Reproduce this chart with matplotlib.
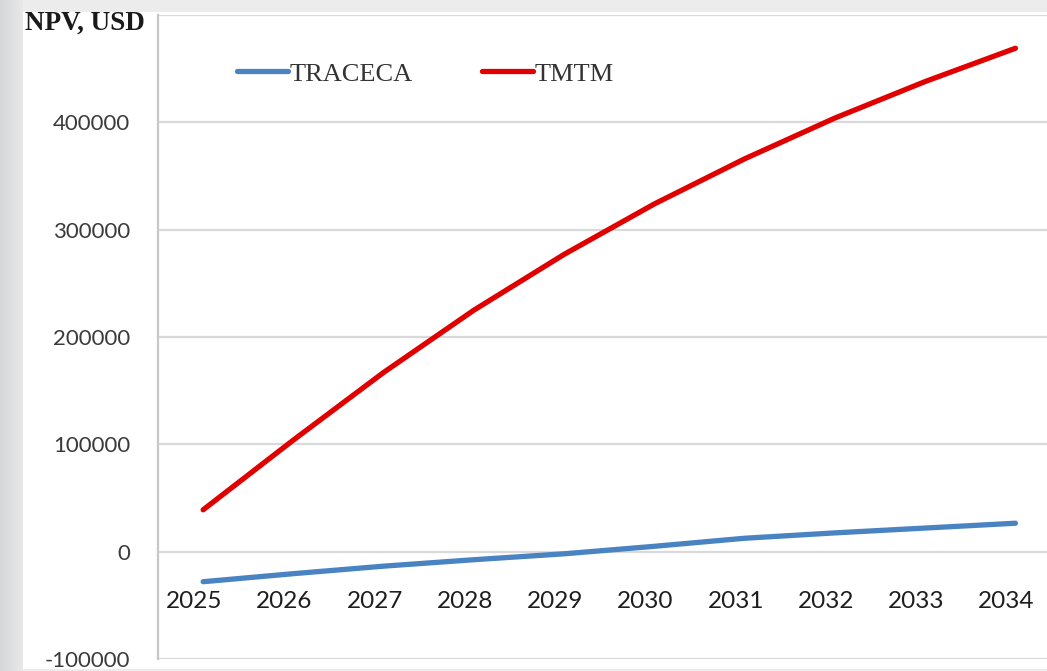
import numpy as np
import matplotlib
matplotlib.use("Agg")
import matplotlib.pyplot as plt
import matplotlib.transforms as mtransforms
from matplotlib.patches import Rectangle

years = [2025, 2026, 2027, 2028, 2029, 2030, 2031, 2032, 2033, 2034]
traceca = [-28000, -20500, -13500, -7500, -2000, 5000, 12500, 17500, 22000, 26500]
tmtm = [39000, 104000, 167000, 225000, 277000, 324000, 366000, 404000, 438000, 469000]
yticks = [-100000, 0, 100000, 200000, 300000, 400000]
series_names = ["TRACECA", "TMTM"]

W, H = 1047, 671
fig = plt.figure(figsize=(W / 100, H / 100), dpi=100)
fig.patch.set_facecolor("#ececec")

# left gradient strip
gax = fig.add_axes([0, 0, 23 / W, 1], zorder=0)
grad = np.linspace(0, 1, 50).reshape(1, -1)
gax.imshow(grad, aspect="auto", cmap=matplotlib.colors.LinearSegmentedColormap.from_list(
    "g", ["#d6d7d9", "#e8e8e9"]), extent=[0, 1, 0, 1])
gax.axis("off")

# white panel
fig.patches.append(Rectangle((23 / W, 2 / H), 1 - 23 / W, (669 - 12) / H,
                             transform=fig.transFigure, facecolor="white",
                             edgecolor="none", zorder=-1))

ax = fig.add_axes([158 / W, 12 / H, (W - 158) / W, 644 / H], zorder=5)
ax.set_facecolor("white")

ax.plot(years, traceca, color="#4A83C2", lw=3.8, solid_capstyle="round", label=series_names[0], zorder=3)
ax.plot(years, tmtm, color="#E00000", lw=3.8, solid_capstyle="round", label=series_names[1], zorder=3)

ax.set_xlim(2024.5, 2034.35)
ax.set_ylim(-100000, 500000)
ax.set_yticks(yticks)
ax.set_yticklabels([str(v) for v in yticks])
for v in yticks + [500000]:
    ax.axhline(v, color="#d9d9d9", lw=1.6, zorder=1)

ax.set_xticks(years)
ax.set_xticklabels([str(y) for y in years])

for s in ["top", "right"]:
    ax.spines[s].set_visible(False)
ax.spines["left"].set_color("#c8c8c8")
ax.spines["left"].set_linewidth(1.6)
ax.spines["bottom"].set_position(("data", 0))
ax.spines["bottom"].set_visible(False)

ax.tick_params(axis="x", length=0, pad=28, labelsize=17.5, labelcolor="#1e1e1e")
ax.tick_params(axis="y", length=0, pad=20, labelsize=16, labelcolor="#3a3a3a")
for lbl in ax.get_xticklabels() + ax.get_yticklabels():
    lbl.set_fontfamily("Lato")
off = mtransforms.ScaledTranslation(-9 / 100, 0, fig.dpi_scale_trans)
for lbl in ax.get_xticklabels():
    lbl.set_transform(lbl.get_transform() + off)

fig.text(25 / W, 1 - 23 / H, "NPV, USD", fontsize=19.5, fontweight="bold",
         family="Liberation Serif", color="#1a1a1a", va="center", ha="left", zorder=10)

leg = ax.legend(loc="center left", bbox_to_anchor=(237 / W, 1 - 74 / H),
                bbox_transform=fig.transFigure, ncol=2, frameon=False,
                prop={"family": "Liberation Serif", "size": 19},
                handlelength=1.95, handletextpad=0.05, columnspacing=2.6,
                borderpad=0, borderaxespad=0)
for t in leg.get_texts():
    t.set_color("#333333")

fig.savefig("out.png", dpi=100, facecolor=fig.get_facecolor())
